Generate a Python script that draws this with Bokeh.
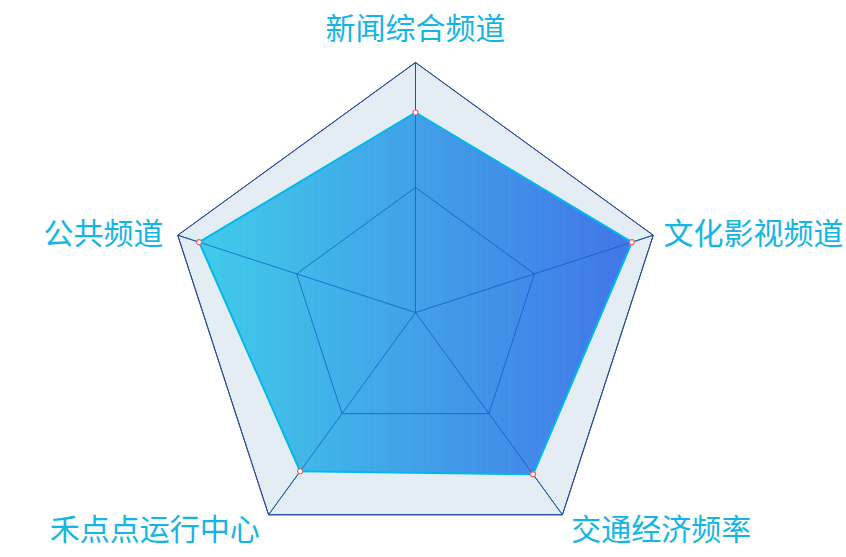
import numpy as np
from bokeh.plotting import figure
from bokeh.embed import file_html
from bokeh.resources import INLINE
from bokeh.core.properties import value

categories = ["新闻综合频道", "文化影视频道", "交通经济频率", "禾点点运行中心", "公共频道"]
values = [80, 91, 80, 78.5, 91]
max_value = 100
split_levels = [0.5, 1.0]

W, H = 846, 557
CX, CY = 415, 245  # center in data units (y measured from bottom)
R = 250
FS = 30

p = figure(width=W, height=H, x_range=(-CX, W - CX), y_range=(-CY, H - CY),
           output_backend="svg", toolbar_location=None, min_border=0)
p.axis.visible = False
p.grid.visible = False
p.outline_line_color = None
p.background_fill_color = "white"

n = len(categories)
angles = np.pi / 2 - np.arange(n) * 2 * np.pi / n
ux, uy = np.cos(angles), np.sin(angles)

# background area
p.patch(list(R * ux), list(R * uy), fill_color="#e4ecf4", line_color=None)
# grid underneath
for lv in split_levels:
    xs = list(R * lv * ux) + [R * lv * ux[0]]
    ys = list(R * lv * uy) + [R * lv * uy[0]]
    p.line(xs, ys, line_color="#24499c", line_width=1)
p.multi_line([[0, R * a] for a in ux], [[0, R * b] for b in uy],
             line_color="#24499c", line_width=1)

# data polygon with horizontal gradient (vertical strips)
vals = np.array(values, dtype=float) / max_value
px = R * vals * ux
py = R * vals * uy
poly = list(zip(px, py))

def clip(poly, xmin, xmax):
    def clip_edge(pts, inside, inter):
        out = []
        for i in range(len(pts)):
            a, b = pts[i - 1], pts[i]
            ia, ib = inside(a), inside(b)
            if ib:
                if not ia:
                    out.append(inter(a, b))
                out.append(b)
            elif ia:
                out.append(inter(a, b))
        return out
    def ix(x0):
        return lambda a, b: (x0, a[1] + (b[1] - a[1]) * (x0 - a[0]) / (b[0] - a[0]))
    pts = clip_edge(poly, lambda q: q[0] >= xmin, ix(xmin))
    if not pts:
        return pts
    pts = clip_edge(pts, lambda q: q[0] <= xmax, ix(xmax))
    return pts

c0 = np.array([0x40, 0xcc, 0xe8])
c1 = np.array([0x42, 0x76, 0xe8])
xmin, xmax = px.min(), px.max()
N = 120
edges = np.linspace(xmin, xmax, N + 1)
sx, sy, cols = [], [], []
for i in range(N):
    pts = clip(poly, edges[i], edges[i + 1])
    if len(pts) < 3:
        continue
    t = (i + 0.5) / N
    c = (c0 * (1 - t) + c1 * t).astype(int)
    sx.append([q[0] for q in pts])
    sy.append([q[1] for q in pts])
    cols.append("#%02x%02x%02x" % tuple(c))
p.patches(sx, sy, fill_color=cols, line_color=cols, line_width=0.8)

# grid on top (tinted)
for lv in split_levels[:-1]:
    xs = list(R * lv * ux) + [R * lv * ux[0]]
    ys = list(R * lv * uy) + [R * lv * uy[0]]
    p.line(xs, ys, line_color="#0858c8", line_alpha=0.7, line_width=1)
p.multi_line([[0, R * a] for a in ux], [[0, R * b] for b in uy],
             line_color="#0858c8", line_alpha=0.7, line_width=1)
xs = list(R * ux) + [R * ux[0]]
ys = list(R * uy) + [R * uy[0]]
p.line(xs, ys, line_color="#24499c", line_width=1)

# data outline and points
p.line(list(px) + [px[0]], list(py) + [py[0]], line_color="#00b8f0", line_width=2)
p.scatter(px, py, size=5, fill_color="white", line_color="#e06a6a", line_width=1.2)

# labels
gap = 15
lx = (R + gap) * ux
ly = (R + gap) * uy
aligns, baselines = [], []
for i, (a, b) in enumerate(zip(ux, uy)):
    if abs(a) < 1e-6:
        aligns.append("center")
        baselines.append("bottom" if b > 0 else "top")
    else:
        aligns.append("left" if a > 0 else "right")
        baselines.append("middle")
        if a > 0:
            # keep the label inside the page
            lx[i] = min(lx[i], (W - CX) - 3 - len(categories[i]) * FS)
for i in range(n):
    p.text([lx[i]], [ly[i]], text=[categories[i]], text_align=aligns[i],
           text_baseline=baselines[i], text_color="#13b5e6",
           text_font=value("Noto Sans CJK SC"), text_font_size=f"{FS}px")

open("out.html", "w").write(file_html(p, INLINE))
